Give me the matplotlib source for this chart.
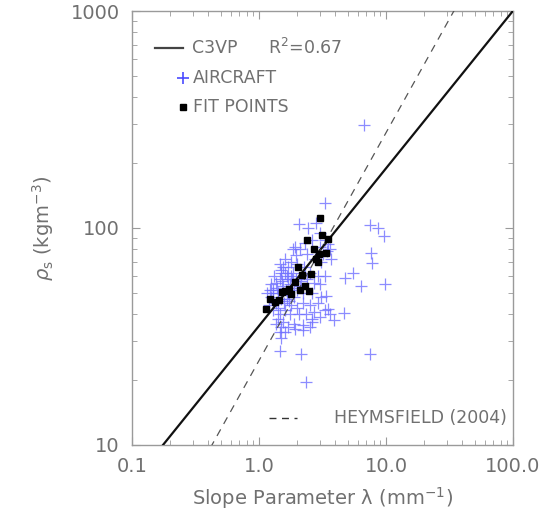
import numpy as np
import matplotlib
matplotlib.use("Agg")
import matplotlib.pyplot as plt

# fitted power laws  rho = coef * lambda ** exp
c3vp_coef, c3vp_exp = 35.4, 0.726
hey_coef, hey_exp = 24.5, 1.05
r2_label = "0.67"

# aircraft samples (lambda in mm^-1, rho in kg m^-3)
air_lam = [6.71, 3.31, 2.08, 2.81, 7.48, 8.70, 9.64, 7.57, 7.71, 5.47,
           4.75, 6.35, 9.82, 3.37, 3.51, 4.70, 3.87, 2.63, 2.23, 1.92,
           1.46, 2.14, 7.48, 2.33,
           2.45, 3.0, 3.3, 3.5, 3.4, 3.6, 3.0, 2.6, 2.3, 2.1,
           1.95, 2.4, 2.75, 3.1, 3.2, 1.8, 2.0, 2.25, 1.6, 1.7,
           1.5, 1.65, 1.85, 2.5, 2.9, 3.3, 3.0, 2.7, 2.4, 2.15,
           1.95, 1.45, 1.35, 1.3, 1.4, 1.55, 1.75, 1.25, 1.35, 1.5,
           1.7, 1.9, 2.2, 2.6, 3.1, 2.9, 2.5, 2.2, 2.0, 1.8,
           1.6, 1.45, 1.3, 1.4, 1.55, 1.75, 2.05, 2.35, 2.7, 3.3,
           3.6, 3.0, 2.6, 1.5, 1.45, 1.5, 1.6, 1.7, 1.9, 2.2,
           2.5, 1.35, 1.2, 1.15, 1.25, 1.6, 1.45, 1.85, 1.92, 3.7,
           1.28, 1.38, 1.42, 1.52, 1.62, 1.68, 1.78, 1.88, 1.22, 1.32,
           1.48, 1.58, 1.72, 1.82, 2.1, 2.3, 1.4, 1.65, 1.55, 1.98]
air_rho = [298, 131, 104, 106, 103, 99.6, 91.8, 77.1, 69.3, 62.1,
           59.1, 53.9, 55.1, 48.4, 42.5, 40.5, 37.8, 38.2, 35.9, 34.3,
           27.2, 26.3, 26.3, 19.6,
           100, 95, 88, 84, 78, 80, 82, 88, 85, 80,
           75, 76, 72, 70, 76, 70, 68, 66, 72, 66,
           64, 60, 62, 62, 60, 60, 55, 56, 58, 57,
           58, 58, 56, 52, 50, 54, 55, 48, 45, 47,
           50, 48, 50, 50, 48, 45, 44, 45, 43, 44,
           42, 40, 42, 38, 37, 40, 40, 40, 41, 42,
           40, 39, 37, 35, 33, 31, 33, 35, 36, 34,
           35, 36, 44, 50, 55, 62, 68, 80, 82, 72,
           50, 53, 46, 57, 52, 58, 60, 53, 52, 60,
           62, 45, 46, 58, 54, 62, 43, 47, 66, 52]

# points used in the fit
fit_lam = [1.13, 1.23, 1.33, 1.43, 1.52, 1.59, 1.72, 1.80, 1.91, 2.02, 2.12, 2.18,
           2.29, 2.39, 2.49, 2.58, 2.69, 2.82, 2.89, 2.94, 3.03, 3.16, 3.36, 3.52]
fit_rho = [42.5, 47.2, 45.6, 46.8, 50.7, 51.3, 52.6, 49.9, 56.4, 65.8, 51.6, 60.6,
           53.9, 88.0, 51.3, 61.7, 80.0, 71.6, 69.8, 75.8, 110.9, 92.8, 76.3, 88.6]

xticks = [0.1, 1.0, 10.0, 100.0]
xtick_labels = ["0.1", "1.0", "10.0", "100.0"]
yticks = [10, 100, 1000]
ytick_labels = ["10", "100", "1000"]

grey = "#707070"
axis_grey = "#9a9a9a"
plt.rcParams["font.family"] = ["DejaVu Sans"]

fig = plt.figure(figsize=(5.48, 5.19), dpi=100)
ax = fig.add_axes([0.2409, 0.1426, 0.6953, 0.8362])

lam = np.logspace(-1, 2, 200)
ax.plot(lam, c3vp_coef * lam ** c3vp_exp, color="#111111", lw=1.6, zorder=3)
ax.plot(lam, hey_coef * lam ** hey_exp, color="#555555", lw=0.9,
        dashes=(6, 5), zorder=3)

ax.plot(air_lam, air_rho, ls="none", marker="+", ms=9, mew=0.9,
        color="#7070ff", alpha=0.8, zorder=2)
ax.plot(fit_lam, fit_rho, ls="none", marker="s", ms=4.8,
        color="black", zorder=4)

ax.set_xscale("log")
ax.set_yscale("log")
ax.set_xlim(0.1, 100)
ax.set_ylim(10, 1000)
ax.set_xticks(xticks)
ax.set_xticklabels(xtick_labels)
ax.set_yticks(yticks)
ax.set_yticklabels(ytick_labels)

for s in ax.spines.values():
    s.set_color(axis_grey)
    s.set_linewidth(1.0)
ax.tick_params(which="both", direction="in", top=True, right=True,
               color=axis_grey, labelcolor=grey, labelsize=14)
ax.tick_params(which="major", length=6, pad=9)
ax.tick_params(which="minor", length=3.5)

ax.set_xlabel("Slope Parameter λ (mm$^{-1}$)", color=grey, fontsize=14,
              labelpad=6)
ax.set_ylabel(r"$\rho_{\rm s}$ (kgm$^{-3}$)", color=grey, fontsize=14,
              labelpad=10)

# hand drawn legend, top left
tr = ax.transAxes
ax.plot([0.060, 0.134], [0.914, 0.914], transform=tr, color="#444444", lw=1.6)
ax.text(0.157, 0.914, "C3VP", transform=tr, color=grey, fontsize=12.5,
        va="center")
ax.text(0.357, 0.914, "R$^2$=" + r2_label, transform=tr, color=grey,
        fontsize=12.5, va="center")
ax.plot([0.134], [0.845], transform=tr, marker="+", ms=8, mew=1.2,
        color="#4a4aff")
ax.text(0.160, 0.845, "AIRCRAFT", transform=tr, color=grey, fontsize=12.5,
        va="center")
ax.plot([0.134], [0.778], transform=tr, marker="s", ms=4, color="black")
ax.text(0.160, 0.778, "FIT POINTS", transform=tr, color=grey, fontsize=12.5,
        va="center")

# legend entry, bottom right
ax.plot([0.36, 0.433], [0.062, 0.062], transform=tr, color="#333333",
        lw=1.0, dashes=(5, 4))
ax.text(0.985, 0.062, "HEYMSFIELD (2004)", transform=tr, color=grey,
        fontsize=12.5, va="center", ha="right")

fig.savefig("out.png", dpi=100)
